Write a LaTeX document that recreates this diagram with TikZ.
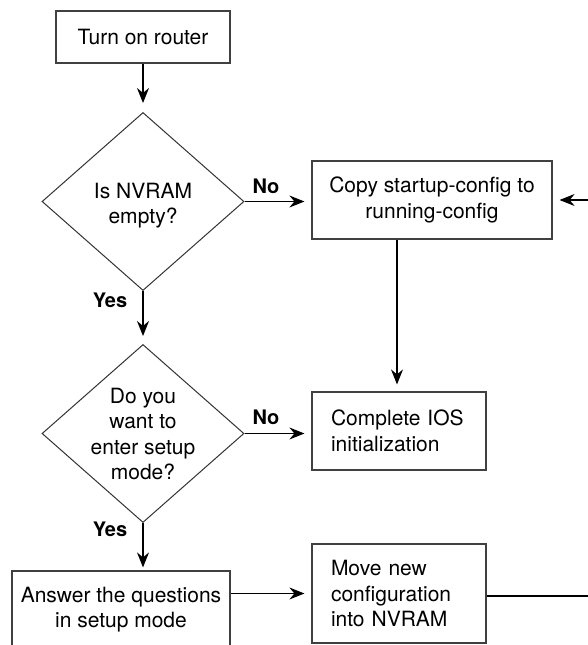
\documentclass[tikz,border=0pt]{standalone}
\usepackage{fontspec}
\setmainfont{TeX Gyre Heros}
\usetikzlibrary{shapes.geometric,arrows.meta,calc}

\tikzset{
  every node/.style={font=\fontsize{21}{25.5}\selectfont},
  stepbox/.style={rectangle, draw=black!75, line width=1.2pt, inner sep=0pt, align=center},
  leftbox/.style={rectangle, draw=black!75, line width=1.2pt, inner xsep=19pt, inner ysep=0pt,
                  text width=136pt, align=left},
  decision/.style={diamond, draw=black!80, line width=1pt, inner sep=0pt,
                   minimum width=202pt, minimum height=178pt},
  flow/.style={line width=1.3pt, -{Stealth[length=15pt, width=12pt, inset=5pt]}, shorten >=7pt},
  answer/.style={font=\fontsize{20}{24}\selectfont\bfseries, inner sep=0pt}
}

\begin{document}
\begin{tikzpicture}[x=1pt, y=-1pt]
  \useasboundingbox (0,0) rectangle (588,645);
  \clip (0,0) rectangle (588,645);
  \fill[white] (0,0) rectangle (588,645);

  % steps and decisions
  \node[stepbox, minimum width=174pt, minimum height=52pt] (start) at (143,37) {Turn on router};
  \node[decision] (nvram) at (143,201.5) {};
  \node[align=center, inner sep=0pt] (nvramtext) at (143,205.5) {Is NVRAM\\empty?};
  \node[stepbox, minimum width=240pt, minimum height=78pt] (copy) at (432,200)
       {Copy startup-config to\\running-config};
  \node[decision] (setup) at (143,433.5) {};
  \node[align=center, inner sep=0pt] (setuptext) at (143,434) {Do you\\want to\\enter setup\\mode?};
  \node[leftbox, minimum height=78pt] (ios) at (399,431) {Complete IOS\\initialization};
  \node[stepbox, minimum width=218pt, minimum height=77pt] (ask) at (121,609.5)
       {Answer the questions\\in setup mode};
  \node[leftbox, minimum height=99pt] (save) at (399,593.5) {Move new\\configuration\\into NVRAM};

  % connectors
  \draw[flow, shorten >=9pt] (start) -- (nvram.north);
  \draw[flow] (nvram.east) -- (nvram.east -| copy.west);
  \draw[flow, shorten >=8pt] (nvram.south) -- (setup.north);
  \draw[flow] (copy.south -| 397,0) -- (ios.north -| 397,0);
  \draw[flow] (setup.east) -- (setup.east -| ios.west);
  \draw[flow, shorten >=3pt] (setup.south) -- (setup.south |- ask.north);
  \draw[flow] (ask.east |- save.west) -- (save.west);
  \coordinate (loop) at (610,596);
  \draw[flow] (save.east |- loop) -- (loop) |- (copy.east);

  % branch labels
  \node[answer] (no1) at (266,186) {No};
  \node[answer] (yes1) at (110,300) {Yes};
  \node[answer] (no2) at (266,417) {No};
  \node[answer] (yes2) at (110,529) {Yes};
\end{tikzpicture}
\end{document}
